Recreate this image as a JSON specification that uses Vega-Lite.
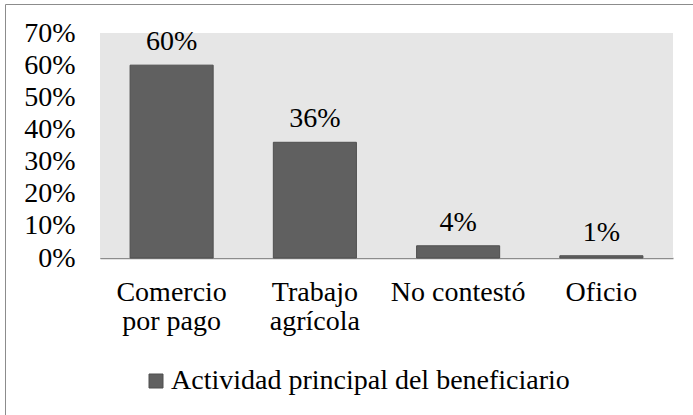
{
  "$schema": "https://vega.github.io/schema/vega-lite/v6.json",
  "width": 700,
  "height": 420,
  "autosize": "none",
  "padding": {"left": 5, "top": 4, "right": 0, "bottom": 0},
  "background": "white",
  "config": {
    "view": {"stroke": "#8c8c8c", "strokeWidth": 1, "fill": "white"},
    "font": "Liberation Serif",
    "axis": {"labelFont": "Liberation Serif", "labelFontSize": 28, "labelColor": "black", "grid": false, "ticks": false, "tickSize": 0, "title": null, "domainColor": "#8c8c8c", "domainWidth": 1.5}
  },
  "data": {"values": [
    {"actividad": "Comercio por pago", "pct": 0.6, "serie": "Actividad principal del beneficiario"},
    {"actividad": "Trabajo agrícola", "pct": 0.36, "serie": "Actividad principal del beneficiario"},
    {"actividad": "No contestó", "pct": 0.038, "serie": "Actividad principal del beneficiario"},
    {"actividad": "Oficio", "pct": 0.007, "serie": "Actividad principal del beneficiario"}
  ]},
  "layer": [
    {
      "data": {"values": [{"fondo": "area"}]},
      "mark": {"type": "rect", "fill": "#e6e6e6"},
      "encoding": {
        "x": {"datum": 0, "type": "quantitative", "scale": {"domain": [0, 1], "range": [95, 668]}, "axis": null},
        "x2": {"datum": 1},
        "y": {"datum": 0, "type": "quantitative"},
        "y2": {"datum": 0.7}
      }
    },
    {
      "encoding": {
        "x": {"field": "actividad", "type": "nominal", "sort": null,
          "scale": {"range": [95, 668], "paddingInner": 0.42, "paddingOuter": 0.21},
          "axis": {"orient": "bottom", "offset": -166, "labelAngle": 0, "labelPadding": 20, "labelLineHeight": 29, "labelBaseline": "top",
            "labelExpr": "datum.value == 'Comercio por pago' ? ['Comercio', 'por pago'] : datum.value == 'Trabajo agrícola' ? ['Trabajo', 'agrícola'] : datum.value"}},
        "y": {"field": "pct", "type": "quantitative",
          "scale": {"domain": [0, 0.7], "range": [254, 29], "nice": false},
          "axis": {"values": [0, 0.1, 0.2, 0.3, 0.4, 0.5, 0.6, 0.7], "format": ".0%", "offset": -95, "labelPadding": 25, "domainWidth": 1}}
      },
      "layer": [
        {
          "mark": {"type": "bar", "stroke": "#4f4f4f", "strokeWidth": 1},
          "encoding": {
            "color": {"field": "serie", "type": "nominal", "scale": {"range": ["#606060"]},
              "legend": {"orient": "none", "legendX": 137, "legendY": 363, "title": null, "symbolType": "square", "symbolSize": 196,
                "symbolStrokeColor": "#4f4f4f", "symbolStrokeWidth": 1, "labelFontSize": 28, "labelFont": "Liberation Serif", "labelColor": "black", "labelOffset": 1, "padding": 0, "labelLimit": 600}}
          }
        },
        {
          "mark": {"type": "text", "dy": -15, "baseline": "alphabetic", "fontSize": 28, "color": "black", "font": "Liberation Serif"},
          "encoding": {"text": {"field": "pct", "type": "quantitative", "format": ".0%"}}
        }
      ]
    }
  ],
  "resolve": {"scale": {"x": "independent"}, "axis": {"x": "independent"}}
}
